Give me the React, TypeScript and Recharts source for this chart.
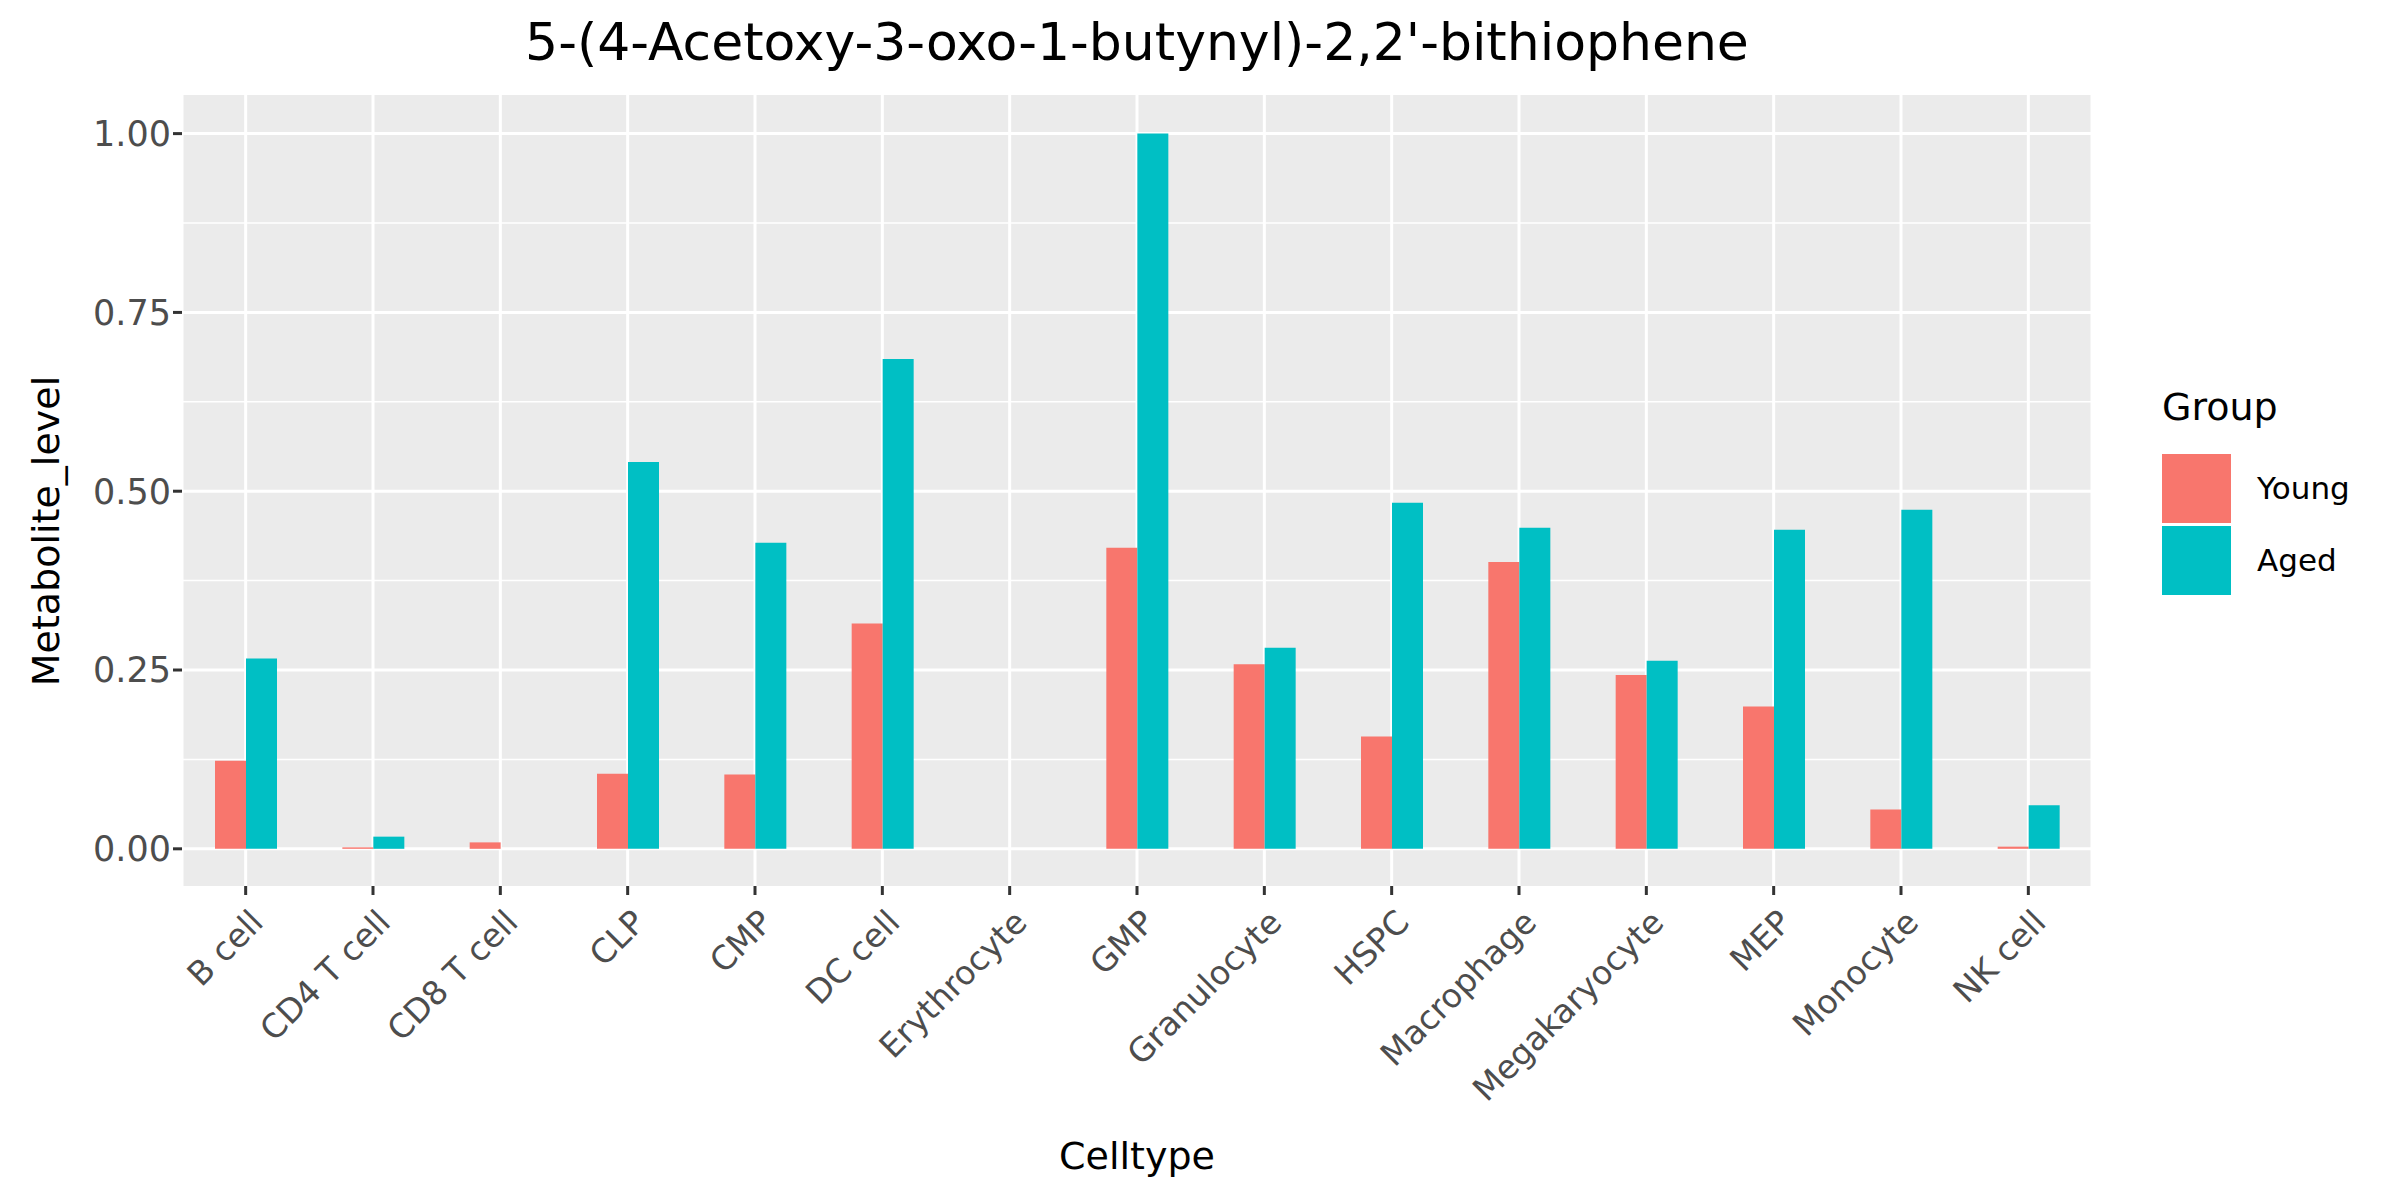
import React from "react";
import { BarChart, Bar, XAxis, YAxis, CartesianGrid } from "recharts";

const categories = ["B cell","CD4 T cell","CD8 T cell","CLP","CMP","DC cell","Erythrocyte","GMP","Granulocyte","HSPC","Macrophage","Megakaryocyte","MEP","Monocyte","NK cell"];
const young = [0.123,0.002,0.009,0.105,0.104,0.315,0,0.421,0.258,0.157,0.401,0.243,0.199,0.055,0.003];
const aged = [0.266,0.017,0,0.541,0.428,0.685,0,1.0,0.281,0.484,0.449,0.263,0.446,0.474,0.061];
const yTicks = [0,0.25,0.5,0.75,1.0];
const yMinor = [0.125,0.375,0.625,0.875];

const data = categories.map((c, i) => ({ cell: c, Young: young[i], Aged: aged[i] }));
const FONT = "'DejaVu Sans', sans-serif";

const XTick = (props: any) => {
  const { x, y, payload } = props;
  return (
    <g transform={`translate(${x + 6},${y + 14})`}>
      <text transform="rotate(-45)" textAnchor="end" dominantBaseline="hanging" fontSize={33} fill="#4D4D4D" fontFamily={FONT} dy={-6}>
        {payload.value}
      </text>
    </g>
  );
};

export default function App() {
  return (
    <div style={{ position: "absolute", left: 0, top: 0, width: 2400, height: 1200, background: "#fff", fontFamily: FONT }}>
      <BarChart width={2400} height={1200} data={data} margin={{ top: 95, right: 308, bottom: 164, left: 62 }} barGap={0} barSize={31}>
        <CartesianGrid fill="#EBEBEB" stroke="#fff" strokeWidth={1.5} vertical={false} horizontalValues={yMinor} />
        <CartesianGrid fill="none" stroke="#fff" strokeWidth={3} horizontalValues={yTicks} />
        <XAxis dataKey="cell" axisLine={false} tickLine={{ stroke: "#333", strokeWidth: 3 }} tickSize={9} height={150} interval={0} tick={<XTick />} />
        <YAxis domain={[-0.052, 1.054]} ticks={yTicks} width={120} axisLine={false} tickLine={{ stroke: "#333", strokeWidth: 3 }} tickSize={9}
          tickFormatter={(v: number) => v.toFixed(2)} tick={{ fontSize: 35, fill: "#4D4D4D", fontFamily: FONT }} allowDataOverflow />
        <Bar dataKey="Young" fill="#F8766D" isAnimationActive={false} />
        <Bar dataKey="Aged" fill="#00BFC4" isAnimationActive={false} />
      </BarChart>
      <div style={{ position: "absolute", left: 182, width: 1910, top: 12, textAlign: "center", fontSize: 52, color: "#000" }}>
        5-(4-Acetoxy-3-oxo-1-butynyl)-2,2'-bithiophene
      </div>
      <div style={{ position: "absolute", left: 182, width: 1910, top: 1134, textAlign: "center", fontSize: 38, color: "#000" }}>Celltype</div>
      <div style={{ position: "absolute", left: 46, top: 531, width: 0, height: 0 }}>
        <div style={{ transform: "translate(-50%,-50%) rotate(-90deg)", whiteSpace: "nowrap", fontSize: 38, position: "absolute" }}>Metabolite_level</div>
      </div>
      <div style={{ position: "absolute", left: 2162, top: 385, fontSize: 38 }}>Group</div>
      <div style={{ position: "absolute", left: 2162, top: 454, width: 69, height: 69, background: "#F8766D" }} />
      <div style={{ position: "absolute", left: 2162, top: 526, width: 69, height: 69, background: "#00BFC4" }} />
      <div style={{ position: "absolute", left: 2257, top: 470, fontSize: 31 }}>Young</div>
      <div style={{ position: "absolute", left: 2257, top: 542, fontSize: 31 }}>Aged</div>
    </div>
  );
}
